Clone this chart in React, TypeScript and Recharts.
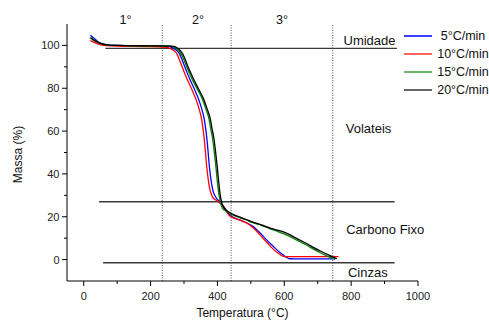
import React from 'react';
import { LineChart, Line, XAxis, YAxis, ReferenceLine, ReferenceDot, Legend } from 'recharts';

// 5 °C/min
const temp5 = [20, 30, 45, 60, 100, 200, 250, 265, 275, 285, 295, 305, 318, 330, 350, 360, 365, 370, 375, 380, 387, 392, 400, 407, 420, 440, 470, 506, 527, 547, 566, 586, 600, 616, 650, 700, 752];
const mass5 = [104.8, 103.5, 101.5, 100.5, 100, 99.8, 99.6, 99, 98, 96.5, 93, 89, 84, 80, 72, 66, 61, 54, 45, 38, 32, 30, 28, 27.3, 24.5, 20.5, 18.3, 15.5, 12.5, 9.2, 6.3, 3.4, 1.8, 0.4, 0.3, 0.3, 0.3];
// 10 °C/min
const temp10 = [20, 40, 60, 100, 200, 240, 260, 270, 277, 287, 297, 310, 322, 342, 352, 357, 362, 367, 372, 377, 382, 387, 395, 402, 417, 436, 466, 496, 516, 536, 551, 566, 585, 600, 650, 700, 762];
const mass10 = [102.2, 100.8, 100, 99.7, 99.5, 99.2, 98.5, 97.5, 96.5, 93, 89, 84, 80, 72, 66, 61, 54, 45, 38, 33, 30.5, 28.8, 27.8, 27, 25, 20.5, 18.5, 16.3, 13.5, 10, 7.5, 5, 2.6, 1.4, 1.4, 1.4, 1.4];
// 15 °C/min
const temp15 = [20, 35, 50, 70, 100, 200, 258, 270, 280, 288, 295, 308, 325, 340, 355, 365, 375, 380, 385, 390, 395, 400, 405, 410, 415, 422, 434, 446, 466, 486, 506, 530, 556, 581, 606, 636, 666, 686, 706, 730, 752];
const mass15 = [103.8, 102.2, 101, 100.3, 100, 99.8, 99.7, 99.2, 98, 96.8, 95, 90, 84, 79.5, 74.9, 70.5, 65.5, 61, 57, 51, 44, 36, 30, 26, 24, 23, 21.8, 20.8, 19.6, 18.5, 17.2, 16, 14.5, 13.1, 11.5, 9.2, 6.8, 5, 3.3, 1.5, 0.3];
// 20 °C/min
const temp20 = [20, 35, 50, 70, 100, 200, 262, 274, 284, 292, 299, 312, 329, 344, 359, 369, 379, 384, 389, 394, 399, 404, 409, 414, 419, 424, 436, 448, 468, 488, 508, 532, 558, 583, 608, 638, 668, 688, 708, 732, 757];
const mass20 = [103.5, 102, 101, 100.3, 100, 99.8, 99.7, 99.3, 98.3, 97, 95.2, 90, 84.2, 79.5, 74.9, 70.5, 65.5, 61, 57, 51, 44, 36, 29.5, 26, 24.3, 23.3, 22, 21, 19.8, 18.6, 17.4, 16.2, 14.7, 13.6, 12.2, 9.8, 7.4, 5.6, 4, 2.2, 0.4];

const seriesNames = ['5°C/min', '10°C/min', '15°C/min', '20°C/min'];
const seriesColors = ['#0000ff', '#ff0000', '#008000', '#000000'];
const legendColors = ['#0000ff', '#ff3030', '#3a9a3a', '#333333'];
const seriesTemps = [temp5, temp10, temp15, temp20];
const seriesMasses = [mass5, mass10, mass15, mass20];

const xTicks = [0, 100, 200, 300, 400, 500, 600, 700, 800, 900, 1000];
const yTicks = [0, 10, 20, 30, 40, 50, 60, 70, 80, 90, 100];

const stageBounds = [235, 441, 745];
const stageLabels = ['1°', '2°', '3°'];
const stageLabelX = [125, 342, 593];

const regionLineY = [98.6, 27, -1.5];
const regionLineStart = [65, 46, 58];
const regionLineEnd = [937, 930, 930];

const regionNames = ['Umidade', 'Volateis', 'Carbono Fixo', 'Cinzas'];
const regionNameX = [855, 852, 902, 850];
const regionNameY = [102.2, 61.4, 14, -6.1];

const FONT = '"Liberation Sans", Arial, sans-serif';

const seriesData = seriesTemps.map((temps, s) =>
  temps.map((t, i) => ({ t, m: seriesMasses[s][i] }))
);

const XTick = (props: any) => {
  const { x, y, payload } = props;
  const v = payload.value;
  const major = v % 200 === 0;
  return (
    <g>
      <line x1={x} x2={x} y1={y} y2={y + (major ? 5 : 3)} stroke="#000" strokeWidth={1} />
      {major && (
        <text x={x} y={y + 18.5} textAnchor="middle" fontSize={11} fill="#222" fontFamily={FONT}>
          {v}
        </text>
      )}
    </g>
  );
};

const YTick = (props: any) => {
  const { x, y, payload } = props;
  const v = payload.value;
  const major = v % 20 === 0;
  return (
    <g>
      <line x1={x - (major ? 5 : 3)} x2={x} y1={y} y2={y} stroke="#000" strokeWidth={1} />
      {major && (
        <text x={x - 7.5} y={y} dy="0.36em" textAnchor="end" fontSize={11} fill="#222" fontFamily={FONT}>
          {v}
        </text>
      )}
    </g>
  );
};

const LegendContent = () => (
  <div style={{ fontFamily: FONT, fontSize: 12.5, color: '#111' }}>
    {seriesNames.map((n, i) => (
      <div key={n} style={{ display: 'flex', alignItems: 'center', height: 18 }}>
        <svg width={29} height={18} style={{ display: 'block' }}>
          <line x1={0} x2={28} y1={9} y2={9} stroke={legendColors[i]} strokeWidth={1.5} />
        </svg>
        <span style={{ width: 54, marginLeft: 3, textAlign: 'center', whiteSpace: 'nowrap', lineHeight: '18px' }}>
          {n}
        </span>
      </div>
    ))}
  </div>
);

export default function App() {
  return (
    <div style={{ position: 'absolute', left: 0, top: 0 }}>
      <LineChart
        width={489}
        height={321}
        margin={{ top: 24, right: 71, bottom: 0, left: 0 }}
        style={{ fontFamily: FONT }}
      >
        <XAxis
          dataKey="t"
          type="number"
          domain={[-50, 1000]}
          ticks={xTicks}
          interval={0}
          height={40}
          tickSize={0}
          tickMargin={0}
          tickLine={false}
          tick={<XTick />}
          axisLine={{ stroke: '#000', strokeWidth: 1 }}
          allowDataOverflow
          label={({ viewBox }: any) => (
            <text
              x={viewBox.x + viewBox.width / 2}
              y={viewBox.y + 36}
              textAnchor="middle"
              fontSize={12}
              fill="#111"
              fontFamily={FONT}
            >
              Temperatura (°C)
            </text>
          )}
        />
        <YAxis
          type="number"
          domain={[-10, 110]}
          ticks={yTicks}
          interval={0}
          width={67}
          tickSize={0}
          tickMargin={0}
          tickLine={false}
          tick={<YTick />}
          axisLine={{ stroke: '#000', strokeWidth: 1 }}
          allowDataOverflow
          label={({ viewBox }: any) => {
            const cx = viewBox.x + 18;
            const cy = viewBox.y + viewBox.height / 2 + 2;
            return (
              <text
                x={cx}
                y={cy}
                transform={`rotate(-90 ${cx} ${cy})`}
                textAnchor="middle"
                dominantBaseline="central"
                fontSize={12}
                fill="#111"
                fontFamily={FONT}
              >
                Massa (%)
              </text>
            );
          }}
        />
        {stageBounds.map((b, i) => (
          <ReferenceLine key={'v' + i} x={b} stroke="#555" strokeWidth={1} strokeDasharray="1 1.5" />
        ))}
        {regionLineY.map((yv, i) => (
          <ReferenceLine
            key={'h' + i}
            segment={[{ x: regionLineStart[i], y: yv }, { x: regionLineEnd[i], y: yv }]}
            stroke="#3a3a3a"
            strokeWidth={1.4}
          />
        ))}
        {seriesData.map((d, i) => (
          <Line
            key={seriesNames[i]}
            data={d}
            dataKey="m"
            name={seriesNames[i]}
            type="monotone"
            stroke={seriesColors[i]}
            strokeWidth={1.3}
            dot={false}
            activeDot={false}
            isAnimationActive={false}
          />
        ))}
        {stageLabels.map((s, i) => (
          <ReferenceDot
            key={'s' + i}
            x={stageLabelX[i]}
            y={110}
            r={0}
            fill="none"
            stroke="none"
            ifOverflow="visible"
            label={{ value: s, position: 'center', dy: -4, fontSize: 12.5, fill: '#111', fontFamily: FONT }}
          />
        ))}
        {regionNames.map((n, i) => (
          <ReferenceDot
            key={'r' + i}
            x={regionNameX[i]}
            y={regionNameY[i]}
            r={0}
            fill="none"
            stroke="none"
            ifOverflow="visible"
            label={{ value: n, position: 'center', fontSize: 13, fill: '#111', fontFamily: FONT }}
          />
        ))}
        <Legend
          layout="vertical"
          align="center"
          verticalAlign="middle"
          content={<LegendContent />}
          wrapperStyle={{ position: 'absolute', left: 404, top: 27, width: 90, margin: 0 }}
        />
      </LineChart>
    </div>
  );
}
